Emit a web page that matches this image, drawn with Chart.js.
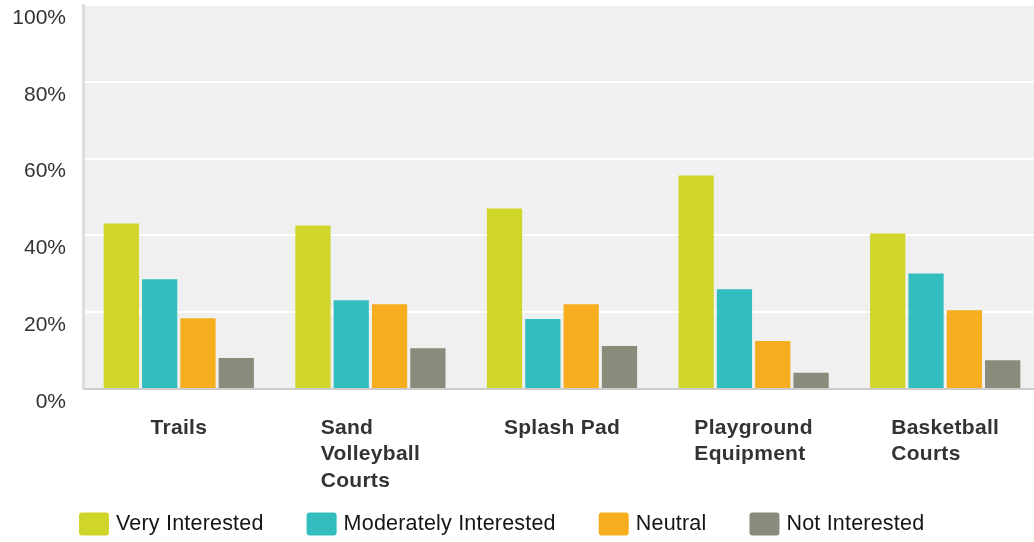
<!DOCTYPE html>
<html>
<head>
<meta charset="utf-8">
<title>Amenity Interest</title>
<script src="https://cdn.jsdelivr.net/npm/chart.js@4.4.1/dist/chart.umd.min.js"></script>
<style>
    html, body { margin: 0; padding: 0; background: #ffffff; overflow: hidden; }
    #frame { width: 1034px; height: 542px; overflow: hidden; }
    /* plot runs a little past the right edge, as in the original crop */
    #chartBox { width: 1041px; height: 542px; position: relative; }
</style>
</head>
<body>
<div id="frame"><div id="chartBox"><canvas id="interestChart"></canvas></div></div>
<script>
// Chart data
const categories = [
    ['Trails'],
    ['Sand', 'Volleyball', 'Courts'],
    ['Splash Pad'],
    ['Playground', 'Equipment'],
    ['Basketball', 'Courts']
];
const seriesNames = ['Very Interested', 'Moderately Interested', 'Neutral', 'Not Interested'];
const veryInterested = [43.1, 42.6, 47.0, 55.6, 40.5];
const moderatelyInterested = [28.6, 23.1, 18.2, 26.0, 30.1];
const neutral = [18.4, 22.1, 22.1, 12.5, 20.5];
const notInterested = [8.1, 10.6, 11.2, 4.2, 7.5];
const yTicks = [0, 20, 40, 60, 80, 100];

const seriesColors = ['#d0d52a', '#33bdbf', '#f7ae1e', '#8b8b7b'];
const seriesValues = [veryInterested, moderatelyInterested, neutral, notInterested];

const fontFamily = 'Arial, "Liberation Sans", sans-serif';

// Grey plot background behind the bars
const plotBackground = {
    id: 'plotBackground',
    beforeDraw(chart) {
        const { ctx, chartArea } = chart;
        ctx.save();
        ctx.fillStyle = '#f0f0f0';
        ctx.fillRect(chartArea.left, chartArea.top, chartArea.right - chartArea.left, chartArea.bottom - chartArea.top);
        ctx.restore();
    }
};

// Category labels: lines left aligned, block centred under each group
const categoryLabels = {
    id: 'categoryLabels',
    afterDraw(chart) {
        const { ctx, chartArea } = chart;
        const xScale = chart.scales.x;
        ctx.save();
        ctx.font = 'bold 21px ' + fontFamily;
        ctx.letterSpacing = '0.3px';
        ctx.fillStyle = '#333333';
        ctx.textAlign = 'left';
        ctx.textBaseline = 'middle';
        categories.forEach((lines, i) => {
            const center = xScale.getPixelForValue(i);
            const widest = Math.max(...lines.map(line => ctx.measureText(line).width));
            const left = center - widest / 2;
            lines.forEach((line, j) => {
                ctx.fillText(line, left, chartArea.bottom + 39 + j * 26.5);
            });
        });
        ctx.restore();
    }
};

// Legend row along the bottom
const bottomLegend = {
    id: 'bottomLegend',
    afterDraw(chart) {
        const { ctx } = chart;
        ctx.save();
        ctx.font = '21.5px ' + fontFamily;
        ctx.letterSpacing = '0.2px';
        ctx.textAlign = 'left';
        ctx.textBaseline = 'middle';
        let x = 79;
        const y = 524;
        chart.data.datasets.forEach(ds => {
            ctx.fillStyle = ds.backgroundColor;
            ctx.beginPath();
            ctx.roundRect(x, y - 11.5, 30, 23, 3);
            ctx.fill();
            ctx.fillStyle = '#151515';
            ctx.fillText(ds.label, x + 37, y);
            x += 37 + ctx.measureText(ds.label).width + 43;
        });
        ctx.restore();
    }
};

const ctx = document.getElementById('interestChart').getContext('2d');
const interestChart = new Chart(ctx, {
    type: 'bar',
    data: {
        labels: categories,
        datasets: seriesNames.map((name, i) => ({
            label: name,
            data: seriesValues[i],
            backgroundColor: seriesColors[i],
            borderWidth: 0,
            categoryPercentage: 0.8,
            barPercentage: 0.92
        }))
    },
    options: {
        responsive: true,
        maintainAspectRatio: false,
        animation: false,
        layout: {
            padding: { top: 5, left: 1, right: 0, bottom: 0 }
        },
        scales: {
            x: {
                grid: { display: false },
                border: { display: true, color: '#cccccc', width: 2 },
                ticks: { display: false },
                afterFit: function(scale) {
                    scale.height = 153;
                }
            },
            y: {
                min: 0,
                max: 100,
                afterBuildTicks: function(scale) {
                    scale.ticks = yTicks.map(v => ({ value: v }));
                },
                grid: {
                    color: '#ffffff',
                    lineWidth: 2,
                    drawTicks: false
                },
                border: { display: true, color: '#dddddd', width: 3 },
                ticks: {
                    padding: 17,
                    labelOffset: 13,
                    color: '#333333',
                    font: {
                        family: fontFamily,
                        size: 21
                    },
                    callback: function(value) {
                        return value + '%';
                    }
                },
                afterFit: function(scale) {
                    scale.width = 82;
                    scale.paddingTop = 0;
                    scale.paddingBottom = 0;
                }
            }
        },
        plugins: {
            legend: { display: false },
            tooltip: { enabled: false }
        }
    },
    plugins: [plotBackground, categoryLabels, bottomLegend]
});
</script>
</body>
</html>
